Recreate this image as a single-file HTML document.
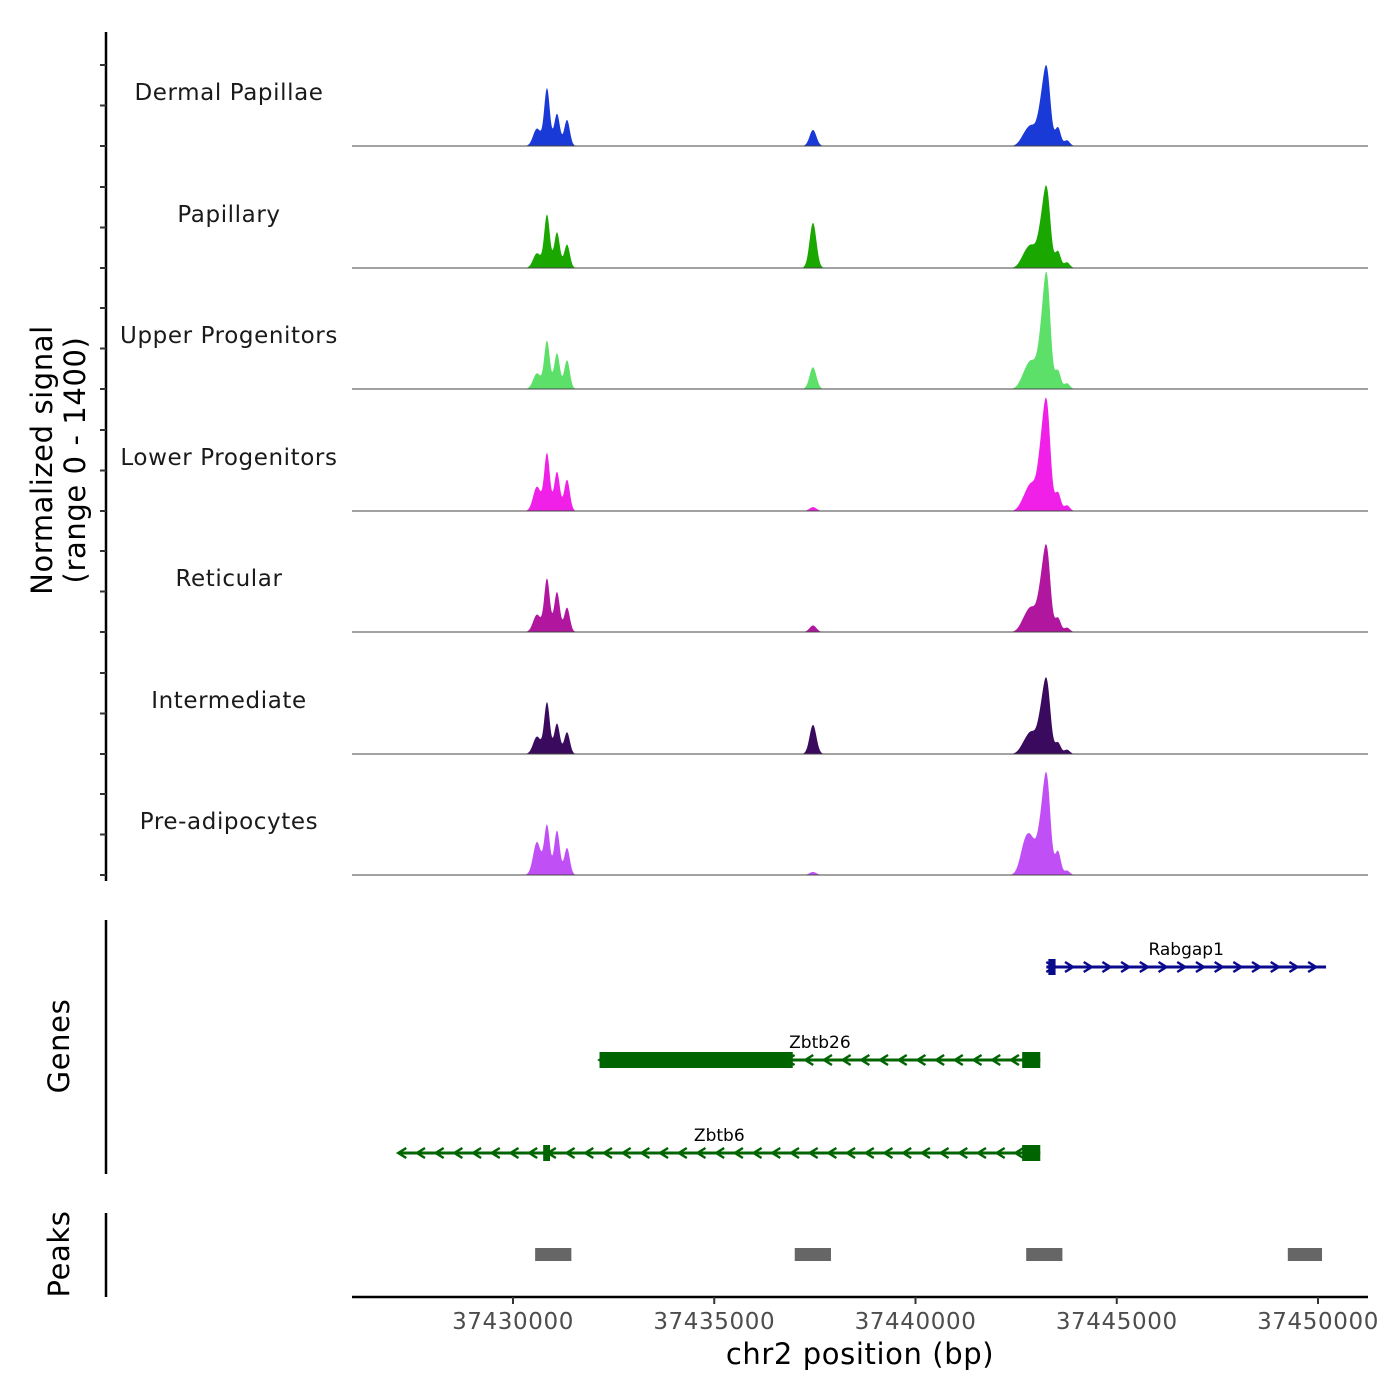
<!DOCTYPE html>
<html><head><meta charset="utf-8"><style>
html,body{margin:0;padding:0;background:#fff}
svg{display:block}
text{font-family:"DejaVu Sans","Liberation Sans",sans-serif}
</style></head><body>
<svg id="chart" width="1400" height="1400" viewBox="0 0 1400 1400" xmlns="http://www.w3.org/2000/svg"></svg>
<script>
const trackNames = ["Dermal Papillae","Papillary","Upper Progenitors","Lower Progenitors","Reticular","Intermediate","Pre-adipocytes"];
const trackColors = ["#1a3ad8","#1aa800","#5ce06a","#f020e8","#b0169e","#3a0a5e","#c050f5"];
const peakCenters = [37430596,37430845,37431093,37431342,37437453,37442720,37442894,37443118,37443267,37443540,37443764];
const peakSigmas = [95,70,70,70,85,120,110,95,90,70,70];
const signalDermal = [200,660,370,300,185,120,180,380,800,210,65];
const signalPapillary = [170,610,410,270,520,140,200,380,820,190,65];
const signalUpper = [180,550,410,330,250,160,250,480,1190,210,65];
const signalLower = [280,660,450,360,45,140,250,580,1100,210,65];
const signalReticular = [200,610,460,280,75,140,220,430,860,160,50];
const signalIntermediate = [200,590,350,250,335,120,200,380,750,130,50];
const signalPreadipo = [380,570,510,310,35,340,300,480,1020,270,50];
const trackSignals = [signalDermal,signalPapillary,signalUpper,signalLower,signalReticular,signalIntermediate,signalPreadipo];
const xTicks = [37430000,37435000,37440000,37445000,37450000];
const peakRegions = [[37430550,37431450],[37437000,37437900],[37442750,37443650],[37449250,37450100]];
const genes = [
 {name:"Rabgap1",color:"#0a0a8c",y:967,start:37443250,end:37450200,strand:1,exons:[[37443300,37443480]],thick:[]},
 {name:"Zbtb26",color:"#006400",y:1060,start:37432150,end:37443100,strand:-1,exons:[[37442650,37443100]],thick:[[37432150,37436950]]},
 {name:"Zbtb6",color:"#006400",y:1153,start:37427150,end:37443100,strand:-1,exons:[[37430750,37430920],[37442650,37443100]],thick:[]}
];
const NS="http://www.w3.org/2000/svg";
const svg=document.getElementById('chart');
const X0=352,X1=1368;
function xs(bp){return 513+(bp-37430000)*805/20000;}
const trackH=121.5, yMax=1400;
function ys(v,base){return base - v/yMax*trackH;}
function mk(tag,attrs,parent){const e=document.createElementNS(NS,tag);for(const k in attrs)e.setAttribute(k,attrs[k]);(parent||svg).appendChild(e);return e;}
let ax=mk('line',{x1:106,y1:32,x2:106,y2:881,stroke:'#000','stroke-width':2.5});

const bases=[146,268,389,511,632,754,875];
bases.forEach((b,i)=>{
 for(let k=0;k<3;k++){const yy=b-k*40.5;const t=mk('line',{x1:100,y1:yy,x2:106,y2:yy,stroke:'#333','stroke-width':2});
 }
 const g=mk('g',{});
 
 
 const lab=mk('text',{x:229,y:b-46,'text-anchor':'middle','font-size':23,fill:'#1a1a1a','letter-spacing':'0.6'},g);
 lab.textContent=trackNames[i];
 
 const sig=trackSignals[i];
 let d='M'+X0+','+b;
 for(let x=X0;x<=X1;x+=0.5){
  const bp=37430000+(x-513)*20000/805;
  let v=0;
  for(let p=0;p<peakCenters.length;p++){const z=(bp-peakCenters[p])/peakSigmas[p];v+=sig[p]*Math.exp(-0.5*z*z);}
  d+=' L'+x.toFixed(1)+','+ys(v,b).toFixed(2);
 }
 d+=' L'+X1+','+b+' Z';
 const a=mk('path',{d:d,fill:trackColors[i]},g);
 
 const bl=mk('line',{x1:X0,y1:b,x2:X1,y2:b,stroke:'#444','stroke-width':1},g);
 
});
let yt=mk('text',{transform:'translate(52,460) rotate(-90)','text-anchor':'middle','font-size':29,fill:'#000','letter-spacing':'0.6'});

mk('tspan',{x:0,dy:0},yt).textContent='Normalized signal';
mk('tspan',{x:0,dy:33},yt).textContent='(range 0 - 1400)';
let ga=mk('line',{x1:106,y1:920,x2:106,y2:1174,stroke:'#000','stroke-width':2.5});

let gt=mk('text',{transform:'translate(69,1046) rotate(-90)','text-anchor':'middle','font-size':29,fill:'#000','letter-spacing':'0.6'});
gt.textContent='Genes';
genes.forEach(gn=>{
 const g=mk('g',{});
 
 const x1=xs(gn.start),x2=xs(gn.end);
 mk('line',{x1:x1,y1:gn.y,x2:x2,y2:gn.y,stroke:gn.color,'stroke-width':3},g);
 for(let x=x1+4;x<x2-6;x+=18.7){
  const s=gn.strand, w=4;
  mk('polyline',{points:`${x-s*w},${gn.y-5} ${x+s*w},${gn.y} ${x-s*w},${gn.y+5}`,fill:'none',stroke:gn.color,'stroke-width':2.5},g);
 }
 gn.thick.forEach(t=>mk('rect',{x:xs(t[0]),y:gn.y-8,width:xs(t[1])-xs(t[0]),height:16,fill:gn.color},g));
 gn.exons.forEach(t=>mk('rect',{x:xs(t[0]),y:gn.y-8,width:Math.max(6,xs(t[1])-xs(t[0])),height:16,fill:gn.color},g));
 const lt=mk('text',{x:(x1+x2)/2,y:gn.y-12,'text-anchor':'middle','font-size':17,fill:'#000'},g);
 lt.textContent=gn.name;
});
let pa=mk('line',{x1:106,y1:1213,x2:106,y2:1297,stroke:'#000','stroke-width':2.5});

let pt=mk('text',{transform:'translate(69,1254) rotate(-90)','text-anchor':'middle','font-size':29,fill:'#000','letter-spacing':'0.6'});
pt.textContent='Peaks';
peakRegions.forEach(r=>{const e=mk('rect',{x:xs(r[0]),y:1248,width:xs(r[1])-xs(r[0]),height:13,fill:'#666'});
 });
let xa=mk('line',{x1:X0,y1:1297,x2:X1,y2:1297,stroke:'#000','stroke-width':2.5});

xTicks.forEach(t=>{
 const tk=mk('line',{x1:xs(t),y1:1297,x2:xs(t),y2:1304,stroke:'#333','stroke-width':2});
 
 const l=mk('text',{x:xs(t),y:1329,'text-anchor':'middle','font-size':23,fill:'#4d4d4d','letter-spacing':'0.6'});
 l.textContent=String(t);
});
let xt=mk('text',{x:860,y:1364,'text-anchor':'middle','font-size':29,fill:'#000','letter-spacing':'0.6'});
xt.textContent='chr2 position (bp)';
</script>
</body></html>
